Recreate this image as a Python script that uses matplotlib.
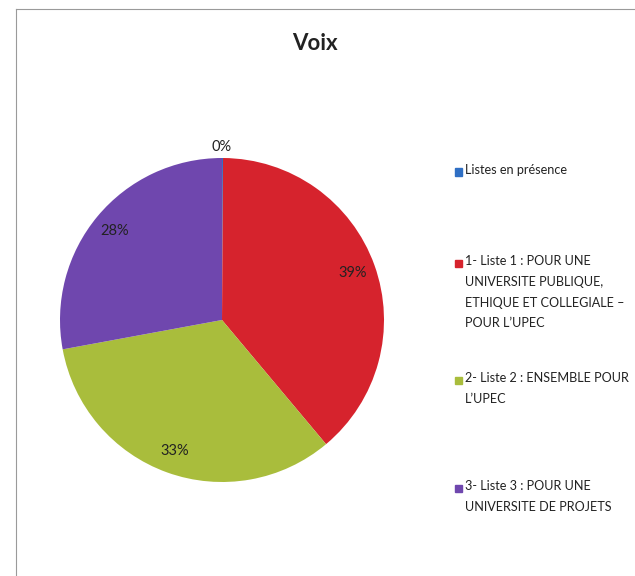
import matplotlib.pyplot as plt
from matplotlib.lines import Line2D
from matplotlib.patches import Rectangle

plt.rcParams['font.family'] = ['Lato', 'DejaVu Sans']

# données
labels = [
    "Listes en présence",
    "1- Liste 1 : POUR UNE\nUNIVERSITE PUBLIQUE,\nETHIQUE ET COLLEGIALE –\nPOUR L’UPEC",
    "2- Liste 2 : ENSEMBLE POUR\nL’UPEC",
    "3- Liste 3 : POUR UNE\nUNIVERSITE DE PROJETS",
]
values = [0.1, 38.8, 33.2, 27.9]
colors = ["#2f6fc4", "#d6232d", "#a9bd3c", "#6f47ae"]

W, H = 635, 576
fig = plt.figure(figsize=(W / 100, H / 100), dpi=100)
fig.patch.set_facecolor("white")

# cadre gris (haut + gauche)
fig.add_artist(Line2D([16 / W, 16 / W], [0, 1 - 9 / H], color="#9a9a9a", lw=0.8))
fig.add_artist(Line2D([16 / W, 1], [1 - 9 / H, 1 - 9 / H], color="#9a9a9a", lw=0.8))

fig.text(315 / W, 1 - 43 / H, "Voix", ha="center", va="center",
         fontsize=16, fontweight="bold", color="#222222")

# camembert
cx, cy, r = 222, 320, 162
ax = fig.add_axes([(cx - r) / W, (H - cy - r) / H, 2 * r / W, 2 * r / H])
wedges, texts, autotexts = ax.pie(values, colors=colors, startangle=90,
                                  counterclock=False, autopct="%.0f%%",
                                  pctdistance=0.86,
                                  textprops=dict(fontsize=10.5, color="#222222"))
ax.set_xlim(-1, 1)
ax.set_ylim(-1, 1)
ax.set_aspect("equal")
ax.axis("off")
autotexts[0].set_position((0, 1.07))

# légende
leg_y = [172, 263, 380, 488]
for lab, col, y in zip(labels, colors, leg_y):
    fig.add_artist(Rectangle((455 / W, 1 - (y + 4) / H), 7.5 / W, 7.5 / H,
                             color=col, transform=fig.transFigure))
    fig.text(465 / W, 1 - (y - 8) / H, lab, ha="left", va="top",
             fontsize=9.05, linespacing=1.88, color="#222222")

fig.savefig("out.png", dpi=100)
